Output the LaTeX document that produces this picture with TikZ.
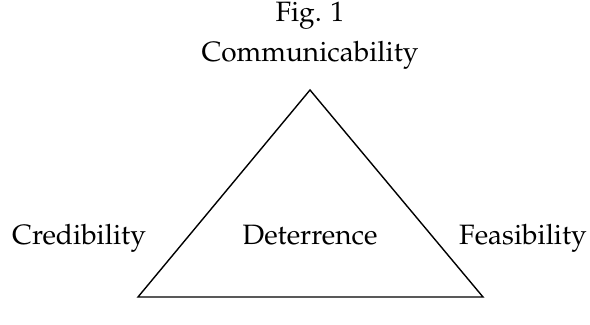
\documentclass[tikz,border=0pt]{standalone}
\usepackage[T1]{fontenc}
\usepackage{mathpazo}
\usepackage{tikz}
\usetikzlibrary{positioning}

\begin{document}
\begin{tikzpicture}[x=0.5pt, y=-0.5pt,
  word/.style={anchor=base, inner sep=0pt, font=\fontsize{14}{17}\selectfont}]
  \useasboundingbox (0,0) rectangle (590,325);

  \node[word] (fig)  at (310, 22) {Fig. 1} ;
  \node[word] (comm) at (310, 62) {Communicability} ;
  \node[word] (cred) at ( 79,245) {Credibility} ;
  \node[word] (dete) at (310,245) {Deterrence} ;
  \node[word] (feas) at (523,245) {Feasibility} ;

  \coordinate (apex) at (310, 90) ;
  \coordinate (bl)   at (138,297) ;
  \coordinate (br)   at (483,297) ;

  \draw[line width=0.7pt] (apex) -- (bl) -- (br) -- cycle ;

\end{tikzpicture}
\end{document}
